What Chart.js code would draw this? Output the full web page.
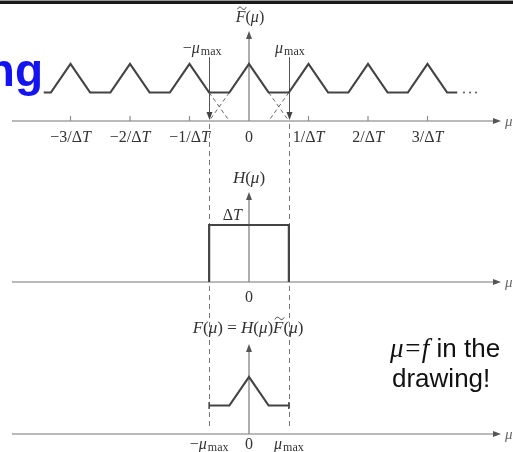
<!DOCTYPE html>
<html>
<head>
<meta charset="utf-8">
<script src="https://cdn.jsdelivr.net/npm/chart.js@4.4.0/dist/chart.umd.min.js"></script>
<style>
  html, body { margin: 0; padding: 0; background: #fff; }
  #chart { display: block; }
</style>
</head>
<body>
<canvas id="chart" width="513" height="452"></canvas>
<script>
// periodic spectrum of the sampled signal, mu in units of 1/ΔT, peak = 1
const replicaMu = [-3.45, -3.33, -3, -2.67, -2.33, -2, -1.67, -1.33, -1, -0.67, -0.33, 0, 0.33, 0.67, 1, 1.33, 1.67, 2, 2.33, 2.67, 3, 3.33, 3.5];
const replicaF  = [0.5, 0.5, 1, 0.5, 0.5, 1, 0.5, 0.5, 1, 0.5, 0.5, 1, 0.5, 0.5, 1, 0.5, 0.5, 1, 0.5, 0.5, 1, 0.5, 0.5];

// hidden tails of neighbouring copies (dashed, from the flat part down to 0)
const tailFrom = [-0.67, -0.33, 0.33, 0.67];
const tailTo   = [-0.33, -0.67, 0.67, 0.33];

// ideal lowpass filter H
const boxMu = [-0.67, -0.67, 0.67, 0.67];
const boxH  = [0, 1, 1, 0];

// recovered spectrum F = H * F~
const bandMu = [-0.67, -0.33, 0, 0.33, 0.67];
const bandF  = [0.5, 0.5, 1, 0.5, 0.5];

const muMax = 0.67;
const tickMu = [-3, -2, -1, 0, 1, 2, 3];
const tickLabels = ['−3/ΔT', '−2/ΔT', '−1/ΔT', '0', '1/ΔT', '2/ΔT', '3/ΔT'];
const bottomTickMu = [-muMax, 0, muMax];
const bottomTickLabels = ['−μmax', '0', 'μmax'];

const SERIF = '"Liberation Serif", "DejaVu Serif", serif';
const SANS = '"Liberation Sans", Arial, sans-serif';

function pts(xs, ys) {
    return xs.map((m, i) => ({ x: m, y: ys[i] }));
}

function seg(ctx, x1, y1, x2, y2) {
    ctx.beginPath();
    ctx.moveTo(x1, y1);
    ctx.lineTo(x2, y2);
    ctx.stroke();
}

// filled arrow head with its tip at (x, y)
function arrowHead(ctx, x, y, dir) {
    const len = 8, half = 3;
    ctx.beginPath();
    ctx.moveTo(x, y);
    if (dir === 'right') { ctx.lineTo(x - len, y - half); ctx.lineTo(x - len, y + half); }
    if (dir === 'up')    { ctx.lineTo(x - half, y + len); ctx.lineTo(x + half, y + len); }
    if (dir === 'down')  { ctx.lineTo(x - half, y - len); ctx.lineTo(x + half, y - len); }
    ctx.closePath();
    ctx.fill();
}

// small wavy tilde centred at (cx, cy)
function tilde(ctx, cx, cy, w) {
    ctx.save();
    ctx.strokeStyle = ctx.fillStyle;
    ctx.lineWidth = 1;
    ctx.beginPath();
    ctx.moveTo(cx - w / 2, cy + 1);
    ctx.bezierCurveTo(cx - w / 4, cy - 2.5, cx - w / 8, cy - 1, cx, cy);
    ctx.bezierCurveTo(cx + w / 8, cy + 1, cx + w / 4, cy + 2.5, cx + w / 2, cy - 1);
    ctx.stroke();
    ctx.restore();
}

// small math typesetter: T F H μ italic, "max" as subscript, "~F" as F with tilde
function drawMath(ctx, str, x, y, size, align) {
    const parts = [];
    str.match(/max|~F|[TFHμ]|[^TFHμ~]/g).forEach(t => {
        let kind = 'r';
        if (t === 'max') kind = 's';
        else if (t === '~F') kind = 't';
        else if ('TFHμ'.includes(t)) kind = 'i';
        const last = parts[parts.length - 1];
        if (kind === 'r' && last && last.kind === 'r') last.text += t;
        else parts.push({ text: t, kind });
    });
    const fontOf = k => k === 's' ? `${Math.round(size * 0.72)}px ${SERIF}`
        : k === 'r' ? `${size}px ${SERIF}` : `italic ${size}px ${SERIF}`;
    const textOf = p => p.kind === 't' ? 'F' : p.text;
    let w = 0;
    parts.forEach(p => {
        ctx.font = fontOf(p.kind);
        p.w = ctx.measureText(textOf(p)).width + (p.kind === 's' ? 1 : 0);
        w += p.w;
    });
    let cx = align === 'center' ? x - w / 2 : align === 'right' ? x - w : x;
    ctx.textBaseline = 'alphabetic';
    ctx.textAlign = 'left';
    parts.forEach(p => {
        ctx.font = fontOf(p.kind);
        ctx.fillText(textOf(p), p.kind === 's' ? cx + 1 : cx, p.kind === 's' ? y + 2 : y);
        if (p.kind === 't') tilde(ctx, cx + p.w * 0.62, y - size * 0.86, size * 0.55);
        cx += p.w;
    });
}

const diagram = {
    id: 'diagram',
    beforeDatasetsDraw(chart) {
        const { ctx, scales } = chart;
        const xs = scales.x;
        const x0 = xs.getPixelForValue(0);
        ctx.save();

        // slide frame line
        ctx.fillStyle = '#999';
        ctx.fillRect(0, 0, chart.width, 1);
        ctx.fillStyle = '#1a1a1a';
        ctx.fillRect(0, 1, chart.width, 3);

        // dashed guides at ±mu_max through all three panels
        ctx.strokeStyle = '#777';
        ctx.lineWidth = 1;
        ctx.setLineDash([5, 4]);
        [-muMax, muMax].forEach(m => {
            const px = Math.round(xs.getPixelForValue(m)) + 0.5;
            seg(ctx, px, scales.yTop.getPixelForValue(0) + 3, px, scales.yBot.getPixelForValue(0) - 4);
        });
        ctx.setLineDash([]);

        // axes of each panel
        ['yTop', 'yMid', 'yBot'].forEach(id => {
            const y0 = scales[id].getPixelForValue(0);
            ctx.strokeStyle = '#a3a3a3';
            ctx.lineWidth = 1.6;
            seg(ctx, 12, y0, 496, y0);
            ctx.fillStyle = '#555';
            arrowHead(ctx, 501, y0, 'right');
            ctx.strokeStyle = '#8c8c8c';
            ctx.lineWidth = 1.4;
            const top = scales[id].getPixelForValue(1.58);
            seg(ctx, x0, y0, x0, top + 4);
            arrowHead(ctx, x0, top, 'up');
            ctx.fillStyle = '#666';
            drawMath(ctx, 'μ', 505, y0 + 5, 15, 'left');
        });

        // tick marks on the top axis
        const yTop0 = scales.yTop.getPixelForValue(0);
        ctx.strokeStyle = '#8c8c8c';
        ctx.lineWidth = 1.2;
        tickMu.forEach(m => {
            if (m === 0) return;
            const px = xs.getPixelForValue(m);
            seg(ctx, px, yTop0, px, yTop0 - 5);
        });

        // mu_max markers with arrows down onto the top axis
        ctx.strokeStyle = '#555';
        ctx.fillStyle = '#444';
        ctx.lineWidth = 1;
        [-muMax, muMax].forEach(m => {
            const px = Math.round(xs.getPixelForValue(m)) + 0.5;
            seg(ctx, px, scales.yTop.getPixelForValue(1.12), px, yTop0 - 6);
            arrowHead(ctx, px, yTop0 - 1, 'down');
        });
        ctx.restore();
    },
    afterDatasetsDraw(chart) {
        const { ctx, scales } = chart;
        const xs = scales.x;
        const x0 = xs.getPixelForValue(0);
        const yT = scales.yTop.getPixelForValue(0);
        const yM = scales.yMid.getPixelForValue(0);
        const yB = scales.yBot.getPixelForValue(0);
        ctx.save();
        ctx.fillStyle = '#333';

        // top panel labels
        drawMath(ctx, '~F(μ)', x0 + 1, 22, 16, 'center');
        drawMath(ctx, '−μmax', xs.getPixelForValue(-muMax) - 7, 53, 16, 'center');
        drawMath(ctx, 'μmax', xs.getPixelForValue(muMax) + 1, 53, 16, 'center');
        tickMu.forEach((m, i) => {
            drawMath(ctx, tickLabels[i], xs.getPixelForValue(m), yT + 21, 16, 'center');
        });

        // continuation dots
        ctx.fillStyle = '#555';
        const yFlat = scales.yTop.getPixelForValue(0.5);
        [464, 470, 476].forEach(px => {
            ctx.beginPath();
            ctx.arc(px, yFlat, 1, 0, Math.PI * 2);
            ctx.fill();
        });

        // middle panel labels
        ctx.fillStyle = '#333';
        drawMath(ctx, 'H(μ)', x0, 183, 17, 'center');
        drawMath(ctx, 'ΔT', xs.getPixelForValue(-0.28), scales.yMid.getPixelForValue(1) - 5, 16, 'center');
        drawMath(ctx, '0', x0, yM + 20, 16, 'center');

        // bottom panel labels
        drawMath(ctx, 'F(μ) = H(μ)~F(μ)', x0 - 1, 333, 17, 'center');
        bottomTickMu.forEach((m, i) => {
            drawMath(ctx, bottomTickLabels[i], xs.getPixelForValue(m), yB + 15, 16, 'center');
        });

        // end stops of the recovered band
        ctx.strokeStyle = '#444';
        ctx.lineWidth = 1.5;
        const yBand = scales.yBot.getPixelForValue(0.5);
        [bandMu[0], bandMu[bandMu.length - 1]].forEach(m => {
            const px = xs.getPixelForValue(m);
            seg(ctx, px, yBand - 3.5, px, yBand + 3.5);
        });

        // slide text
        ctx.fillStyle = '#1414f0';
        ctx.font = `bold 46px ${SANS}`;
        ctx.textAlign = 'right';
        ctx.textBaseline = 'alphabetic';
        ctx.fillText('ng', 43, 86);

        ctx.fillStyle = '#111';
        ctx.textAlign = 'left';
        ctx.font = `italic 27px ${SERIF}`;
        ctx.fillText('μ=f', 390, 357);
        const w = ctx.measureText('μ=f').width;
        ctx.font = `26px ${SANS}`;
        ctx.fillText(' in the', 390 + w, 357);
        ctx.fillText('drawing!', 392, 387);
        ctx.restore();
    }
};

const line = (data, axis, extra) => Object.assign({
    data, yAxisID: axis, showLine: true, pointRadius: 0, tension: 0,
    borderColor: '#444', borderWidth: 2.2, fill: false
}, extra || {});

const datasets = [
    line(pts(replicaMu, replicaF), 'yTop'),
    ...tailFrom.map((m, i) => line([{ x: m, y: 0.5 }, { x: tailTo[i], y: 0 }], 'yTop',
        { borderColor: '#666', borderWidth: 1, borderDash: [4, 3] })),
    line(pts(boxMu, boxH), 'yMid'),
    line(pts(bandMu, bandF), 'yBot')
];

// each panel maps 1 unit of amplitude to 57px, with its baseline at 121, 282, 434
const unitPx = 57, H = 452;
const panel = base => ({ type: 'linear', axis: 'y', display: false, min: base / unitPx - H / unitPx, max: base / unitPx });

new Chart(document.getElementById('chart'), {
    type: 'scatter',
    data: { datasets },
    options: {
        responsive: false,
        animation: false,
        events: [],
        layout: { padding: 0 },
        plugins: { legend: { display: false }, tooltip: { enabled: false } },
        scales: {
            x: { type: 'linear', display: false, min: -249 / 59.5, max: 264 / 59.5 },
            yTop: panel(121),
            yMid: panel(282),
            yBot: panel(434)
        }
    },
    plugins: [diagram]
});
</script>
</body>
</html>
